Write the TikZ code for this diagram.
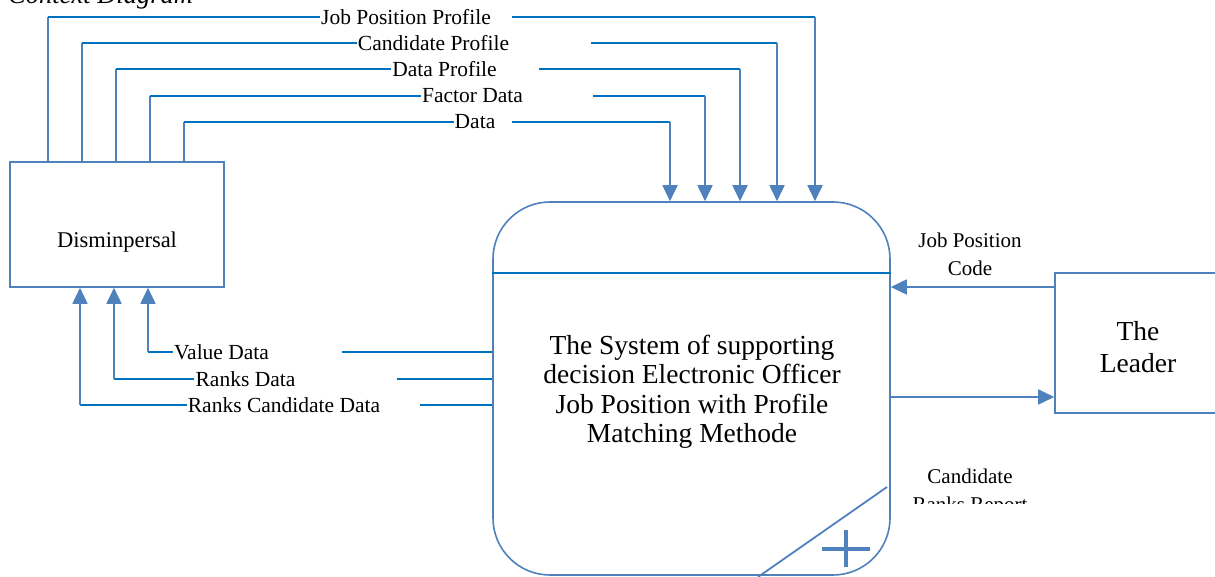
\documentclass[tikz,border=0pt]{standalone}
\usepackage{fontspec}
\setmainfont{Liberation Serif}
\usetikzlibrary{arrows.meta}
\definecolor{shapeblue}{HTML}{4F81BD}
\definecolor{lineblue}{HTML}{0070C0}

\begin{document}
\begin{tikzpicture}[x=1pt,y=-1pt,
	box/.style={draw=shapeblue, line width=1.6pt, inner sep=0pt},
	hflow/.style={draw=lineblue, line width=1.8pt},
	vflow/.style={draw=shapeblue, line width=1.8pt},
	tip/.style={-{Triangle[length=16pt,width=15pt]}},
	lbl/.style={inner xsep=1pt, inner ysep=0pt, font=\fontsize{21.5}{26}\selectfont},
	big/.style={align=center, font=\fontsize{27.5}{29.5}\selectfont}]

	% page size of the reference
	\useasboundingbox (0,0) rectangle (1215,577);

	% title, cut by the top of the page
	\node[anchor=base west, inner sep=0pt, font=\itshape\fontsize{26.5}{30}\selectfont] (ctx) at (8,4) {Context Diagram};

	% external entities and the process
	\node[box, minimum width=214pt, minimum height=125pt] (disp) at (117,224.5) {};
	\node[font=\fontsize{22.5}{26}\selectfont] (disp-t) at (117,242) {Disminpersal};
	\node[box, rounded corners=57pt, minimum width=397pt, minimum height=373pt] (sys) at (691.5,388.5) {};
	\node[big] (sys-t) at (692,392) {The System of supporting\\decision Electronic Officer\\Job Position with Profile\\Matching Methode};
	\node[box, minimum width=166pt, minimum height=140pt] (lead) at (1138,343) {};
	\node[big, font=\fontsize{27.5}{32}\selectfont] (lead-t) at (1138,347) {The\\Leader};

	% divider, corner line and plus of the process
	\draw[hflow] (sys.west |- 0,273) -- (sys.east |- 0,273);
	\draw[vflow] (887,487) -- (758,577);
	\draw[shapeblue, line width=4pt] (822,549) -- (870,549) (846,530) -- (846,567);

	% flows from Disminpersal into the system
	\node[lbl] (jpp) at (406,17) {Job Position Profile};
	\coordinate (jpp-a) at (48,17);
	\coordinate (jpp-b) at (512,17);
	\coordinate (jpp-c) at (815,17);
	\draw[vflow] (disp.north -| jpp-a) -- (jpp-a);
	\draw[hflow] (jpp-a) -- (jpp.west) (jpp-b) -- (jpp-c);
	\draw[vflow, tip] (jpp-c) -- (sys.north -| jpp-c);

	\node[lbl] (cp) at (433.5,43) {Candidate Profile};
	\coordinate (cp-a) at (82,43);
	\coordinate (cp-b) at (591,43);
	\coordinate (cp-c) at (777,43);
	\draw[vflow] (disp.north -| cp-a) -- (cp-a);
	\draw[hflow] (cp-a) -- (cp.west) (cp-b) -- (cp-c);
	\draw[vflow, tip] (cp-c) -- (sys.north -| cp-c);

	\node[lbl] (dp) at (444.5,69) {Data Profile};
	\coordinate (dp-a) at (116,69);
	\coordinate (dp-b) at (539,69);
	\coordinate (dp-c) at (740,69);
	\draw[vflow] (disp.north -| dp-a) -- (dp-a);
	\draw[hflow] (dp-a) -- (dp.west) (dp-b) -- (dp-c);
	\draw[vflow, tip] (dp-c) -- (sys.north -| dp-c);

	\node[lbl] (fd) at (472.5,96) {Factor Data};
	\coordinate (fd-a) at (150,96);
	\coordinate (fd-b) at (593,96);
	\coordinate (fd-c) at (705,96);
	\draw[vflow] (disp.north -| fd-a) -- (fd-a);
	\draw[hflow] (fd-a) -- (fd.west) (fd-b) -- (fd-c);
	\draw[vflow, tip] (fd-c) -- (sys.north -| fd-c);

	\node[lbl] (da) at (475,122) {Data};
	\coordinate (da-a) at (184,122);
	\coordinate (da-b) at (512,122);
	\coordinate (da-c) at (670,122);
	\draw[vflow] (disp.north -| da-a) -- (da-a);
	\draw[hflow] (da-a) -- (da.west) (da-b) -- (da-c);
	\draw[vflow, tip] (da-c) -- (sys.north -| da-c);

	% flows from the system back to Disminpersal
	\node[lbl] (vd) at (221.5,352) {Value Data};
	\coordinate (vd-a) at (148,352);
	\coordinate (vd-b) at (342,352);
	\draw[hflow] (sys.west |- vd-b) -- (vd-b) (vd.west) -- (vd-a);
	\draw[vflow, tip] (vd-a) -- (disp.south -| vd-a);

	\node[lbl] (rd) at (245.5,379) {Ranks Data};
	\coordinate (rd-a) at (114,379);
	\coordinate (rd-b) at (397,379);
	\draw[hflow] (sys.west |- rd-b) -- (rd-b) (rd.west) -- (rd-a);
	\draw[vflow, tip] (rd-a) -- (disp.south -| rd-a);

	\node[lbl] (rcd) at (284,405) {Ranks Candidate Data};
	\coordinate (rcd-a) at (80,405);
	\coordinate (rcd-b) at (420,405);
	\draw[hflow] (sys.west |- rcd-b) -- (rcd-b) (rcd.west) -- (rcd-a);
	\draw[vflow, tip] (rcd-a) -- (disp.south -| rcd-a);

	% flows between the system and the leader
	\draw[vflow, tip] (lead.west |- 0,287) -- (sys.east |- 0,287);
	\node[align=center, font=\fontsize{21}{28}\selectfont] (jpc) at (970,254) {Job Position\\Code};
	\draw[vflow, tip] (sys.east |- 0,397) -- (lead.west |- 0,397);
	\begin{scope}
		\clip (900,440) rectangle (1050,503);
		\node[align=center, anchor=north, font=\fontsize{21}{28}\selectfont] (crr) at (970,465) {Candidate\\Ranks Report};
	\end{scope}

\end{tikzpicture}
\end{document}
